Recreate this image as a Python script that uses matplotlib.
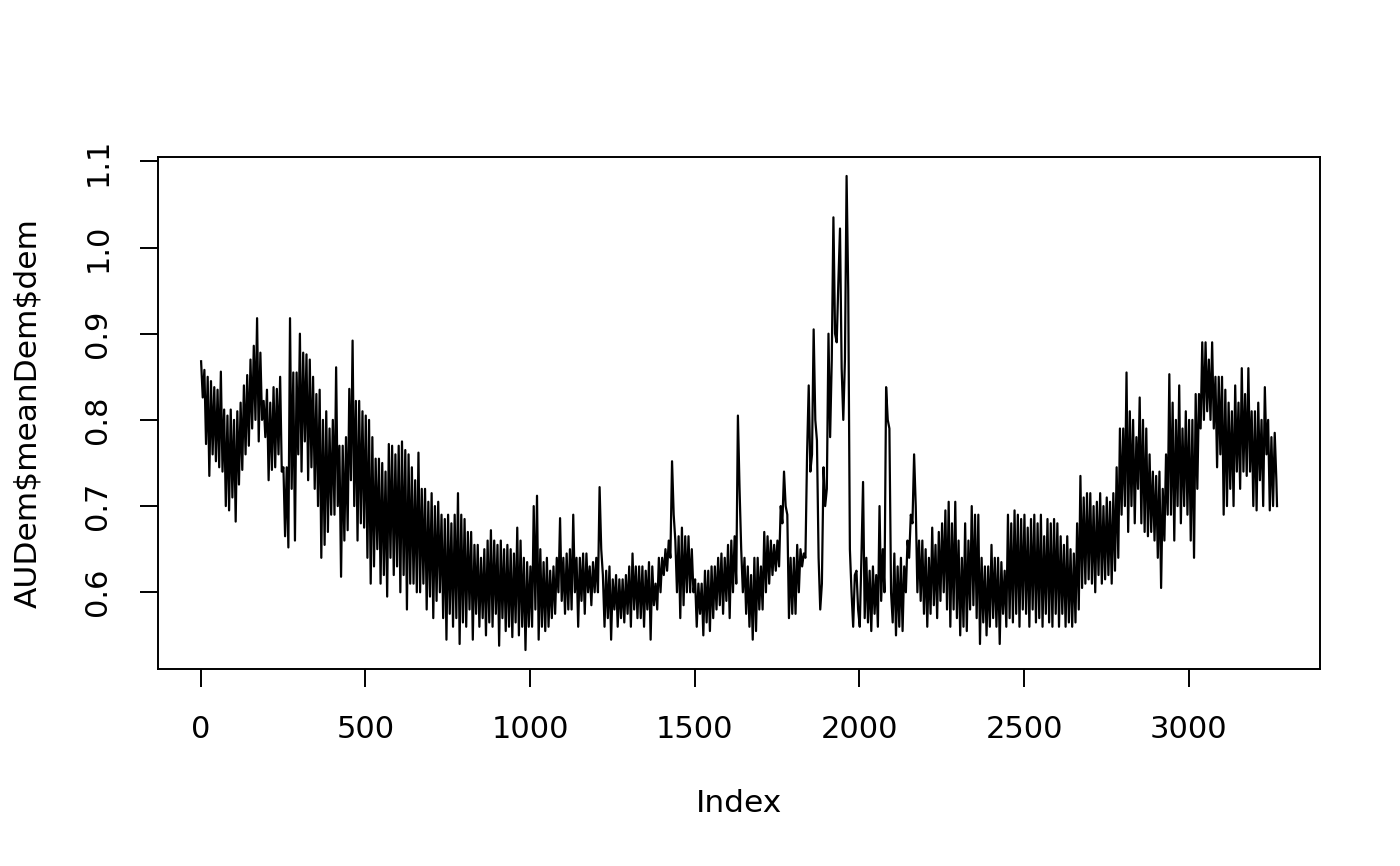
import numpy as np
import matplotlib
matplotlib.use("Agg")
import matplotlib.pyplot as plt

# series, one value every 5 index steps (plus the last point)
index = np.append(np.arange(1, 3267, 5), 3268)

dem = [
    # 1 - 996
    0.868, 0.826, 0.858, 0.772, 0.850, 0.735, 0.845, 0.760, 0.838, 0.752,
    0.835, 0.745, 0.856, 0.740, 0.812, 0.700, 0.805, 0.695, 0.812, 0.710,
    0.800, 0.682, 0.810, 0.725, 0.820, 0.742, 0.840, 0.760, 0.852, 0.770,
    0.870, 0.790, 0.886, 0.800, 0.918, 0.775, 0.878, 0.800, 0.822, 0.780,
    0.835, 0.730, 0.820, 0.742, 0.838, 0.745, 0.836, 0.760, 0.850, 0.740,
    0.745, 0.665, 0.745, 0.652, 0.918, 0.720, 0.855, 0.660, 0.855, 0.760,
    0.900, 0.740, 0.878, 0.775, 0.876, 0.730, 0.870, 0.745, 0.850, 0.720,
    0.830, 0.700, 0.835, 0.640, 0.800, 0.655, 0.810, 0.670, 0.790, 0.690,
    0.800, 0.690, 0.861, 0.700, 0.770, 0.618, 0.770, 0.660, 0.780, 0.672,
    0.836, 0.730, 0.892, 0.700, 0.822, 0.660, 0.822, 0.680, 0.810, 0.675,
    0.805, 0.640, 0.800, 0.610, 0.780, 0.630, 0.755, 0.650, 0.755, 0.610,
    0.750, 0.620, 0.740, 0.595, 0.772, 0.640, 0.770, 0.620, 0.760, 0.630,
    0.770, 0.600, 0.775, 0.620, 0.765, 0.580, 0.760, 0.610, 0.745, 0.610,
    0.730, 0.600, 0.762, 0.600, 0.720, 0.610, 0.720, 0.580, 0.705, 0.595,
    0.715, 0.570, 0.700, 0.590, 0.705, 0.600, 0.690, 0.570, 0.685, 0.545,
    0.690, 0.575, 0.680, 0.560, 0.690, 0.570, 0.715, 0.540, 0.690, 0.565,
    0.685, 0.560, 0.670, 0.580, 0.670, 0.545, 0.655, 0.575, 0.655, 0.560,
    0.640, 0.570, 0.650, 0.550, 0.660, 0.565, 0.672, 0.560, 0.660, 0.575,
    0.655, 0.538, 0.660, 0.570, 0.650, 0.555, 0.655, 0.560, 0.650, 0.548,
    0.645, 0.565, 0.675, 0.550, 0.660, 0.560, 0.640, 0.533, 0.635, 0.560,
    # 1001 - 1996
    0.630, 0.560, 0.700, 0.580, 0.712, 0.545, 0.650, 0.560, 0.635, 0.555,
    0.640, 0.560, 0.625, 0.570, 0.630, 0.575, 0.640, 0.600, 0.686, 0.590,
    0.640, 0.575, 0.645, 0.580, 0.650, 0.580, 0.690, 0.600, 0.640, 0.560,
    0.640, 0.590, 0.645, 0.575, 0.645, 0.600, 0.630, 0.585, 0.635, 0.600,
    0.640, 0.600, 0.722, 0.650, 0.620, 0.560, 0.625, 0.570, 0.630, 0.545,
    0.615, 0.580, 0.620, 0.560, 0.615, 0.570, 0.615, 0.565, 0.620, 0.575,
    0.630, 0.560, 0.645, 0.580, 0.630, 0.570, 0.630, 0.570, 0.630, 0.560,
    0.625, 0.580, 0.635, 0.545, 0.630, 0.585, 0.610, 0.580, 0.640, 0.600,
    0.640, 0.620, 0.650, 0.625, 0.660, 0.640, 0.752, 0.690, 0.660, 0.600,
    0.665, 0.570, 0.675, 0.585, 0.665, 0.600, 0.665, 0.600, 0.650, 0.600,
    0.615, 0.560, 0.610, 0.575, 0.610, 0.550, 0.625, 0.565, 0.625, 0.555,
    0.630, 0.570, 0.630, 0.580, 0.640, 0.585, 0.645, 0.575, 0.640, 0.590,
    0.655, 0.570, 0.660, 0.600, 0.665, 0.610, 0.805, 0.720, 0.650, 0.600,
    0.640, 0.575, 0.630, 0.560, 0.620, 0.545, 0.640, 0.555, 0.640, 0.580,
    0.630, 0.580, 0.670, 0.600, 0.665, 0.610, 0.660, 0.620, 0.655, 0.625,
    0.660, 0.630, 0.700, 0.680, 0.740, 0.700, 0.690, 0.570, 0.640, 0.575,
    0.640, 0.575, 0.655, 0.600, 0.650, 0.630, 0.645, 0.640, 0.760, 0.840,
    0.740, 0.760, 0.905, 0.800, 0.776, 0.640, 0.580, 0.610, 0.745, 0.700,
    0.720, 0.900, 0.780, 0.870, 1.035, 0.900, 0.890, 0.960, 1.022, 0.860,
    0.800, 0.870, 1.083, 0.950, 0.650, 0.600, 0.560, 0.620, 0.625, 0.580,
    # 2001 - 2996
    0.560, 0.640, 0.728, 0.570, 0.640, 0.565, 0.625, 0.555, 0.630, 0.575,
    0.620, 0.560, 0.700, 0.590, 0.650, 0.600, 0.838, 0.800, 0.790, 0.600,
    0.565, 0.645, 0.550, 0.630, 0.560, 0.640, 0.555, 0.630, 0.600, 0.660,
    0.640, 0.690, 0.680, 0.760, 0.700, 0.600, 0.660, 0.590, 0.660, 0.575,
    0.650, 0.560, 0.640, 0.575, 0.675, 0.585, 0.655, 0.570, 0.670, 0.590,
    0.680, 0.600, 0.695, 0.580, 0.705, 0.560, 0.680, 0.580, 0.705, 0.570,
    0.660, 0.550, 0.640, 0.560, 0.680, 0.555, 0.660, 0.580, 0.700, 0.585,
    0.690, 0.570, 0.690, 0.540, 0.640, 0.565, 0.630, 0.550, 0.630, 0.560,
    0.655, 0.570, 0.640, 0.560, 0.640, 0.540, 0.635, 0.575, 0.625, 0.560,
    0.690, 0.570, 0.680, 0.565, 0.695, 0.575, 0.690, 0.560, 0.685, 0.580,
    0.690, 0.575, 0.675, 0.560, 0.685, 0.580, 0.690, 0.565, 0.680, 0.570,
    0.690, 0.560, 0.665, 0.575, 0.685, 0.565, 0.680, 0.560, 0.685, 0.575,
    0.680, 0.560, 0.665, 0.575, 0.655, 0.560, 0.665, 0.565, 0.650, 0.560,
    0.645, 0.565, 0.680, 0.580, 0.735, 0.605, 0.710, 0.610, 0.715, 0.615,
    0.715, 0.610, 0.700, 0.600, 0.705, 0.620, 0.715, 0.610, 0.700, 0.615,
    0.710, 0.620, 0.705, 0.610, 0.715, 0.625, 0.745, 0.640, 0.790, 0.690,
    0.790, 0.700, 0.855, 0.670, 0.810, 0.700, 0.800, 0.680, 0.780, 0.720,
    0.826, 0.680, 0.800, 0.670, 0.790, 0.665, 0.760, 0.670, 0.740, 0.660,
    0.735, 0.640, 0.740, 0.605, 0.720, 0.660, 0.760, 0.690, 0.853, 0.690,
    0.820, 0.660, 0.800, 0.700, 0.840, 0.680, 0.790, 0.700, 0.810, 0.690,
    # 3001 - 3268
    0.800, 0.660, 0.800, 0.640, 0.830, 0.720, 0.830, 0.790, 0.890, 0.800,
    0.890, 0.810, 0.870, 0.800, 0.890, 0.790, 0.850, 0.745, 0.850, 0.760,
    0.850, 0.690, 0.835, 0.700, 0.820, 0.720, 0.810, 0.700, 0.840, 0.740,
    0.820, 0.720, 0.860, 0.740, 0.830, 0.735, 0.860, 0.740, 0.810, 0.700,
    0.810, 0.695, 0.820, 0.730, 0.800, 0.700, 0.838, 0.760, 0.800, 0.695,
    0.780, 0.700, 0.785, 0.730, 0.700,
]

xticks = [0, 500, 1000, 1500, 2000, 2500, 3000]
yticks = [0.6, 0.7, 0.8, 0.9, 1.0, 1.1]

fig = plt.figure(figsize=(14, 8.66), dpi=100)
ax = fig.add_axes([0.1129, 0.2275, 0.83, 0.5912])

ax.plot(index, dem, color="black", linewidth=1.6)
ax.margins(x=0.04, y=0.04)

ax.set_xticks(xticks)
ax.set_xticklabels([str(t) for t in xticks])
ax.set_yticks(yticks)
ax.set_yticklabels(["%.1f" % t for t in yticks], rotation=90, va="center")

ax.tick_params(direction="out", length=13, width=1.4, pad=20, labelsize=22)
for s in ax.spines.values():
    s.set_linewidth(1.4)

ax.set_xlabel("Index", fontsize=22.5)
ax.set_ylabel(r"AUDem\$meanDem\$dem", fontsize=22.5)
ax.xaxis.set_label_coords(0.5, -0.235)
ax.yaxis.set_label_coords(-0.100, 0.5)

fig.savefig("out.png", dpi=100)
